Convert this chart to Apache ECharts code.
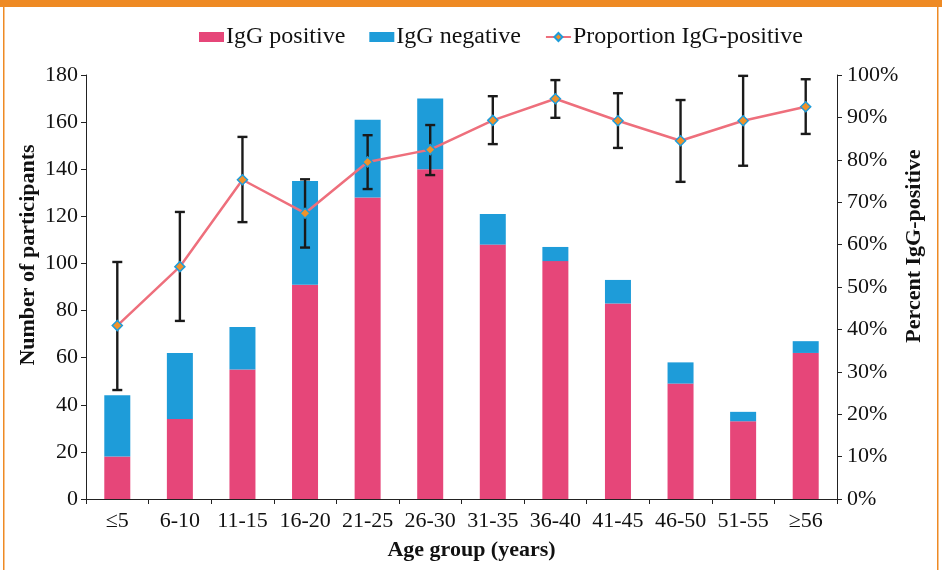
<!DOCTYPE html>
<html>
<head>
<meta charset="utf-8">
<script src="https://cdn.jsdelivr.net/npm/echarts@6/dist/echarts.min.js"></script>
<style>
html,body{margin:0;padding:0;background:#fff;}
#chart{width:942px;height:570px;}
</style>
</head>
<body>
<div id="chart"></div>
<script>
var categories = ['≤5','6-10','11-15','16-20','21-25','26-30','31-35','36-40','41-45','46-50','51-55','≥56'];
var iggPositive = [18, 34, 55, 91, 128, 140, 108, 101, 83, 49, 33, 62];
var iggNegative = [26, 28, 18, 44, 33, 30, 13, 6, 10, 9, 4, 5];
var proportion = [40.9, 54.8, 75.3, 67.4, 79.5, 82.4, 89.3, 94.4, 89.2, 84.5, 89.2, 92.5];
var ciLower = [25.7, 42.0, 65.3, 59.3, 73.1, 76.4, 83.7, 89.9, 82.8, 74.8, 78.6, 86.1];
var ciUpper = [55.9, 67.7, 85.4, 75.4, 85.8, 88.2, 95.0, 98.8, 95.7, 94.1, 99.8, 99.0];
var leftTicks = [0, 180, 20];
var rightTicks = [0, 100, 10];

var FONT = 'Liberation Serif';
var chart = echarts.init(document.getElementById('chart'), null, {renderer: 'canvas'});

var errData = categories.map(function (c, i) { return [i, ciLower[i], ciUpper[i]]; });

var option = {
  backgroundColor: '#ffffff',
  animation: false,
  textStyle: {fontFamily: FONT, color: '#111'},
  graphic: [
    {type: 'rect', shape: {x: 0, y: 0, width: 942, height: 7}, style: {fill: '#EE8A24'}, z: 100},
    {type: 'rect', shape: {x: 3, y: 0, width: 1.5, height: 570}, style: {fill: '#EE8A24'}, z: 100},
    {type: 'rect', shape: {x: 937, y: 0, width: 1.5, height: 570}, style: {fill: '#EE8A24'}, z: 100}
  ],
  legend: {
    left: 194,
    top: 20,
    itemWidth: 25,
    itemHeight: 10,
    itemGap: 24,
    textStyle: {fontFamily: FONT, fontSize: 24, color: '#111', padding: [0, 0, 0, -3]},
    data: [
      {name: 'IgG positive', icon: 'rect'},
      {name: 'IgG negative', icon: 'rect'},
      {name: 'Proportion IgG-positive'}
    ]
  },
  grid: {left: 86, right: 105, top: 75, bottom: 71},
  xAxis: {
    type: 'category',
    data: categories,
    name: 'Age group (years)',
    nameLocation: 'middle',
    nameGap: 40,
    nameMoveOverlap: false,
    nameTextStyle: {fontFamily: FONT, fontSize: 22, fontWeight: 'bold', color: '#111', padding: [0, 0, 0, 20]},
    axisLine: {lineStyle: {color: '#222', width: 1}},
    axisTick: {show: true, length: 5, alignWithLabel: false, lineStyle: {color: '#222'}},
    axisLabel: {fontFamily: FONT, fontSize: 22, color: '#111', margin: 11, interval: 0}
  },
  yAxis: [
    {
      type: 'value',
      min: leftTicks[0], max: leftTicks[1], interval: leftTicks[2],
      name: 'Number of participants',
      nameLocation: 'middle',
      nameRotate: 90,
      nameGap: 47,
      nameMoveOverlap: false,
      nameTextStyle: {fontFamily: FONT, fontSize: 22, fontWeight: 'bold', color: '#111', padding: [0, 0, 0, 64]},
      axisLine: {show: true, lineStyle: {color: '#222', width: 1}},
      axisTick: {show: true, length: 5, lineStyle: {color: '#222'}},
      axisLabel: {fontFamily: FONT, fontSize: 22, color: '#111', margin: 8},
      splitLine: {show: false}
    },
    {
      type: 'value',
      position: 'right',
      min: rightTicks[0], max: rightTicks[1], interval: rightTicks[2],
      name: 'Percent IgG-positive',
      nameLocation: 'middle',
      nameRotate: 90,
      nameGap: 66,
      nameMoveOverlap: false,
      nameTextStyle: {fontFamily: FONT, fontSize: 22, fontWeight: 'bold', color: '#111', padding: [0, 0, 0, 82]},
      axisLine: {show: true, lineStyle: {color: '#222', width: 1}},
      axisTick: {show: true, length: 5, lineStyle: {color: '#222'}},
      axisLabel: {fontFamily: FONT, fontSize: 22, color: '#111', margin: 10, formatter: '{value}%'},
      splitLine: {show: false}
    }
  ],
  series: [
    {
      name: 'IgG positive',
      type: 'bar',
      stack: 'total',
      barWidth: 26,
      itemStyle: {color: '#E64679'},
      data: iggPositive,
      z: 2
    },
    {
      name: 'IgG negative',
      type: 'bar',
      stack: 'total',
      barWidth: 26,
      itemStyle: {color: '#1E9CD9'},
      data: iggNegative,
      z: 2
    },
    {
      name: 'error',
      type: 'custom',
      yAxisIndex: 1,
      data: errData,
      z: 5,
      renderItem: function (params, api) {
        var x = api.value(0);
        var lo = api.coord([x, api.value(1)]);
        var hi = api.coord([x, api.value(2)]);
        var hw = 5;
        var st = {stroke: '#1a1a1a', lineWidth: 2.4};
        return {
          type: 'group',
          children: [
            {type: 'line', shape: {x1: lo[0], y1: lo[1], x2: hi[0], y2: hi[1]}, style: st},
            {type: 'line', shape: {x1: lo[0] - hw, y1: lo[1], x2: lo[0] + hw, y2: lo[1]}, style: st},
            {type: 'line', shape: {x1: hi[0] - hw, y1: hi[1], x2: hi[0] + hw, y2: hi[1]}, style: st}
          ]
        };
      }
    },
    {
      name: 'Proportion IgG-positive',
      type: 'line',
      yAxisIndex: 1,
      data: proportion,
      z: 10,
      symbol: 'diamond',
      symbolSize: 10,
      showAllSymbol: true,
      lineStyle: {color: '#EE6F7C', width: 2.5},
      itemStyle: {color: '#F0922A', borderColor: '#1E9CD9', borderWidth: 1.5}
    }
  ]
};
chart.setOption(option);
</script>
</body>
</html>
